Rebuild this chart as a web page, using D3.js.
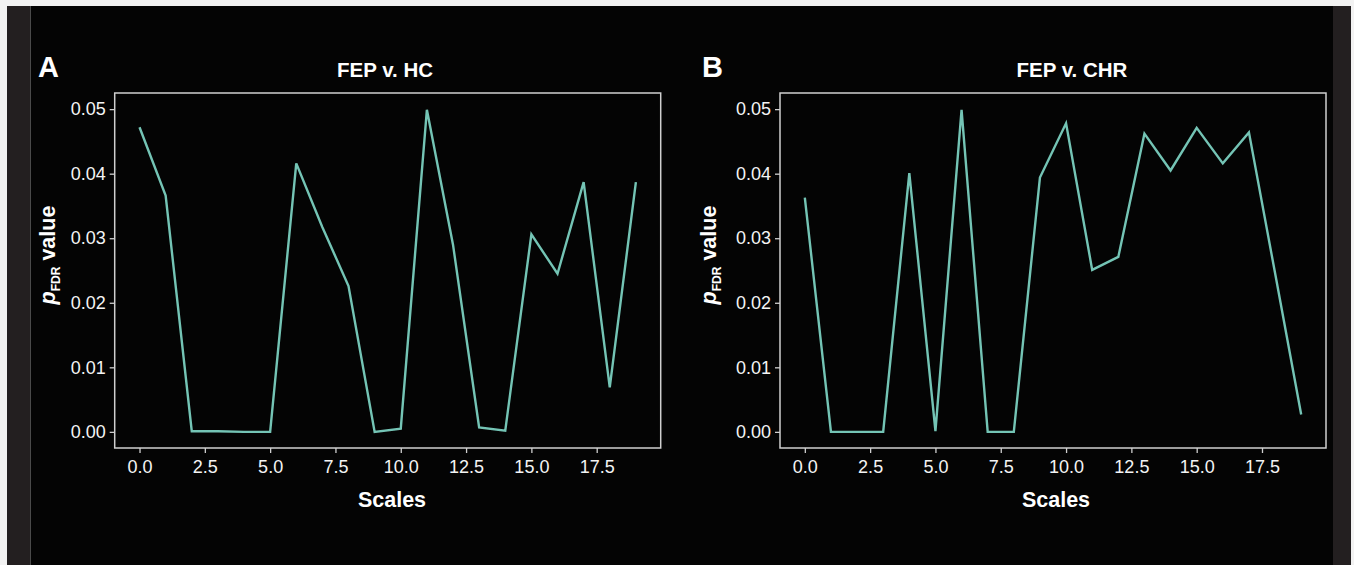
<!DOCTYPE html>
<html>
    <head>
        <meta http-equiv="Content-Type" content="text/html;charset=utf-8">
        <script src="https://d3js.org/d3.v7.min.js"></script>
        <title>FEP p-values</title>
        <style>
            body { margin:0; background:#f2f2f2; }
            svg { display:block; }
            text { font-family:"Liberation Sans", Arial, Helvetica, sans-serif; fill:#ffffff; }
            .frame { fill:none; stroke:#cfcfcf; stroke-width:1.5; }
            .tick line { stroke:#cfcfcf; stroke-width:1.3; }
            .tick text { font-size:18px; fill:#f4f4f4; }
            .domain { display:none; }
            .series { fill:none; stroke:#74c4b5; stroke-width:2.4; stroke-linejoin:miter; }
        </style>
    </head>
    <body>
        <svg width="1354" height="565"></svg>
    </body>
    <script>
        // scale index 0..19
        var scales = d3.range(20);

        // FDR corrected p values
        var fepVsHc = [0.0472, 0.0366, 0.0001, 0.0001, 0.0000, 0.0000, 0.0416, 0.0317, 0.0226, 0.0000,
                       0.0005, 0.0499, 0.0290, 0.0007, 0.0002, 0.0306, 0.0245, 0.0387, 0.0069, 0.0387];
        var fepVsChr = [0.0363, 0.0000, 0.0000, 0.0000, 0.0401, 0.0001, 0.0499, 0.0000, 0.0000, 0.0394,
                        0.0478, 0.0251, 0.0271, 0.0462, 0.0405, 0.0471, 0.0416, 0.0464, 0.0246, 0.0027];

        var xTicks = [0, 2.5, 5, 7.5, 10, 12.5, 15, 17.5];
        var yTicks = [0, 0.01, 0.02, 0.03, 0.04, 0.05];

        var panelLetters = ["A", "B"];
        var panelTitles = ["FEP v. HC", "FEP v. CHR"];

        var svg = d3.select("svg");

        // page background: dark strips at the edges, black middle
        svg.append("rect").attr("x", 0).attr("y", 0).attr("width", 1354).attr("height", 565).attr("fill", "#f2f2f2");
        svg.append("rect").attr("x", 7).attr("y", 6).attr("width", 1344).attr("height", 559).attr("fill", "#231f20");
        svg.append("rect").attr("x", 30).attr("y", 6).attr("width", 1303).attr("height", 559).attr("fill", "#040404");
        svg.append("line").attr("x1", 30.5).attr("x2", 30.5).attr("y1", 6).attr("y2", 565)
            .attr("stroke", "#4a4a4a").attr("stroke-width", 1);

        function drawPanel(opts){
            var g = svg.append("g");
            var left = opts.left, right = opts.left + 546, top = 93, bottom = 448;

            var x = d3.scaleLinear().domain([-0.95, 19.95]).range([left, right]);
            var y = d3.scaleLinear().domain([-0.0025, 0.0525]).range([bottom, top]);

            g.append("g")
                .attr("class", "xaxis")
                .attr("transform", "translate(0," + bottom + ")")
                .call(d3.axisBottom(x)
                    .tickValues(xTicks)
                    .tickFormat(d3.format(".1f"))
                    .tickSize(5)
                    .tickPadding(7));

            g.append("g")
                .attr("class", "yaxis")
                .attr("transform", "translate(" + left + ",0)")
                .call(d3.axisLeft(y)
                    .tickValues(yTicks)
                    .tickFormat(d3.format(".2f"))
                    .tickSize(5)
                    .tickPadding(4));

            var line = d3.line()
                .x(function(d, i){ return x(scales[i]); })
                .y(function(d){ return y(d); });

            g.append("path")
                .datum(opts.values)
                .attr("class", "series")
                .attr("d", line);

            g.append("rect")
                .attr("class", "frame")
                .attr("x", left)
                .attr("y", top)
                .attr("width", right - left)
                .attr("height", bottom - top);

            // panel letter
            g.append("text")
                .attr("x", opts.letterX)
                .attr("y", 77)
                .attr("font-size", 29)
                .attr("font-weight", "bold")
                .text(opts.letter);

            // title
            g.append("text")
                .attr("x", opts.titleX)
                .attr("y", 77)
                .attr("text-anchor", "middle")
                .attr("font-size", 20.5)
                .attr("font-weight", "bold")
                .text(opts.title);

            // x label
            g.append("text")
                .attr("x", opts.xlabX)
                .attr("y", 507)
                .attr("text-anchor", "middle")
                .attr("font-size", 21.5)
                .attr("font-weight", "bold")
                .text("Scales");

            // y label  p_FDR value
            var yl = g.append("text")
                .attr("transform", "translate(" + opts.ylabX + ",255) rotate(-90)")
                .attr("text-anchor", "middle")
                .attr("font-size", 21.5)
                .attr("font-weight", "bold");
            yl.append("tspan").attr("font-style", "italic").text("p");
            yl.append("tspan").attr("font-size", 12).attr("dy", 5).text("FDR");
            yl.append("tspan").attr("dy", -5).text(" value");
        }

        drawPanel({ left:114.7, values:fepVsHc, letter:panelLetters[0], title:panelTitles[0],
                    letterX:38, titleX:385, xlabX:392, ylabX:55 });
        drawPanel({ left:780, values:fepVsChr, letter:panelLetters[1], title:panelTitles[1],
                    letterX:702, titleX:1072, xlabX:1056, ylabX:716 });
    </script>
</html>
